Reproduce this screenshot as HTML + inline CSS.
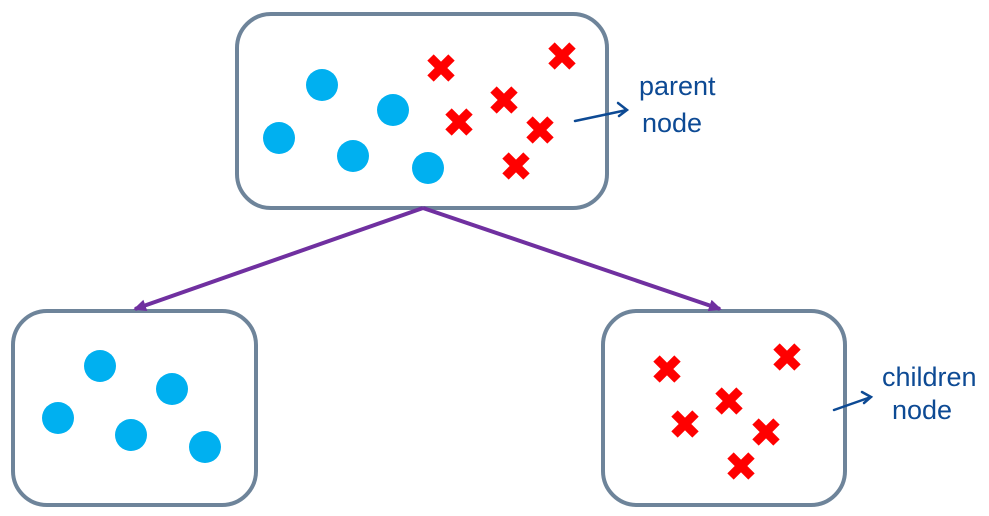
<!DOCTYPE html>
<html><head><meta charset="utf-8"><style>
html,body{margin:0;padding:0;background:#fff;width:989px;height:516px;overflow:hidden}
svg{display:block}
text{font-family:"Liberation Sans",sans-serif;fill:#0d4a94;font-size:27px}
</style></head><body>
<svg width="989" height="516" viewBox="0 0 989 516">
<defs>
<marker id="ah" markerWidth="14" markerHeight="12" refX="11" refY="6" orient="auto" markerUnits="userSpaceOnUse">
<path d="M0,0 L13,6 L0,12 Z" fill="#7030a0"/>
</marker>
<g id="x"><path d="M-10.5,-10.5 L10.5,10.5 M10.5,-10.5 L-10.5,10.5" stroke="#ff0000" stroke-width="9"/></g>
</defs>
<g fill="#fff" stroke="#6e849a" stroke-width="4">
<rect x="237" y="14" width="370" height="194" rx="34"/>
<rect x="13" y="311" width="243" height="194" rx="34"/>
<rect x="603" y="311" width="242" height="194" rx="34"/>
</g>
<g stroke="#7030a0" stroke-width="4" fill="none">
<line x1="423" y1="208" x2="135" y2="309" marker-end="url(#ah)"/>
<line x1="423" y1="208" x2="720" y2="309" marker-end="url(#ah)"/>
</g>
<g fill="#00b0f0">
<circle cx="322" cy="85" r="16"/><circle cx="393" cy="110" r="16"/><circle cx="279" cy="138" r="16"/><circle cx="353" cy="156" r="16"/><circle cx="428" cy="168" r="16"/>
<circle cx="100" cy="366" r="16"/><circle cx="172" cy="389" r="16"/><circle cx="58" cy="418" r="16"/><circle cx="131" cy="435" r="16"/><circle cx="205" cy="447" r="16"/>
</g>
<use href="#x" x="441" y="68"/><use href="#x" x="562" y="56"/><use href="#x" x="504" y="100"/><use href="#x" x="459" y="122"/><use href="#x" x="540" y="130"/><use href="#x" x="516" y="166"/>
<use href="#x" x="667" y="369"/><use href="#x" x="787" y="357"/><use href="#x" x="729" y="401"/><use href="#x" x="685" y="424"/><use href="#x" x="766" y="432"/><use href="#x" x="741" y="466"/>
<g stroke="#0d4a94" stroke-width="2.5" fill="none" stroke-linecap="round">
<path d="M575,121 L627,110 M618,103 L627,110 L619,116"/>
<path d="M834,410 L871,397 M862,392 L871,397 L864,403"/>
</g>
<text x="639" y="95">parent</text>
<text x="642" y="132">node</text>
<text x="882" y="386">children</text>
<text x="892" y="419">node</text>
</svg>
</body></html>
